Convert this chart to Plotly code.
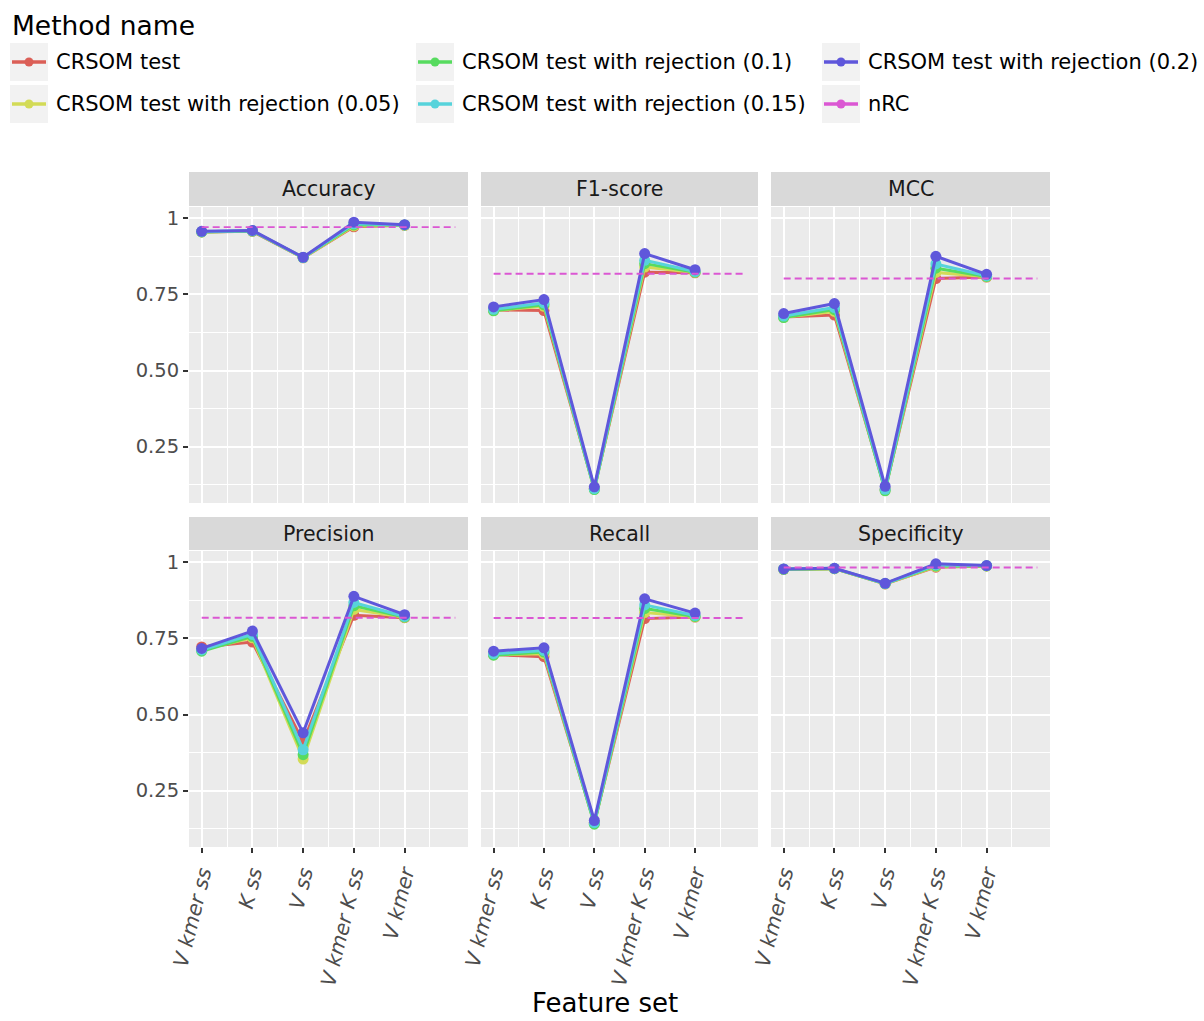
import plotly.graph_objects as go

# ---- data -------------------------------------------------------------
feature_sets = ["V kmer ss", "K ss", "V ss", "V kmer K ss", "V kmer"]
metrics = ["Accuracy", "F1-score", "MCC", "Precision", "Recall", "Specificity"]
methods = [
    "CRSOM test",
    "CRSOM test with rejection (0.05)",
    "CRSOM test with rejection (0.1)",
    "CRSOM test with rejection (0.15)",
    "CRSOM test with rejection (0.2)",
    "nRC",
]
colors = ["#DB5F57", "#D3DB57", "#57DB5F", "#57D3DB", "#5F57DB", "#DB57D3"]

# scores per feature set, one list per CRSOM variant
accuracy = {
    "CRSOM test": [0.955, 0.957, 0.870, 0.972, 0.977],
    "CRSOM test with rejection (0.05)": [0.955, 0.958, 0.870, 0.975, 0.977],
    "CRSOM test with rejection (0.1)": [0.955, 0.958, 0.871, 0.978, 0.978],
    "CRSOM test with rejection (0.15)": [0.956, 0.959, 0.871, 0.982, 0.978],
    "CRSOM test with rejection (0.2)": [0.957, 0.960, 0.872, 0.987, 0.979],
}
f1_score = {
    "CRSOM test": [0.699, 0.697, 0.113, 0.823, 0.821],
    "CRSOM test with rejection (0.05)": [0.697, 0.711, 0.111, 0.840, 0.822],
    "CRSOM test with rejection (0.1)": [0.696, 0.716, 0.109, 0.851, 0.823],
    "CRSOM test with rejection (0.15)": [0.701, 0.722, 0.112, 0.862, 0.825],
    "CRSOM test with rejection (0.2)": [0.709, 0.733, 0.118, 0.884, 0.831],
}
mcc = {
    "CRSOM test": [0.676, 0.682, 0.110, 0.802, 0.807],
    "CRSOM test with rejection (0.05)": [0.675, 0.694, 0.108, 0.822, 0.808],
    "CRSOM test with rejection (0.1)": [0.674, 0.700, 0.105, 0.836, 0.809],
    "CRSOM test with rejection (0.15)": [0.679, 0.707, 0.110, 0.850, 0.811],
    "CRSOM test with rejection (0.2)": [0.687, 0.720, 0.120, 0.875, 0.816],
}
precision = {
    "CRSOM test": [0.722, 0.738, 0.410, 0.826, 0.818],
    "CRSOM test with rejection (0.05)": [0.713, 0.752, 0.354, 0.845, 0.819],
    "CRSOM test with rejection (0.1)": [0.708, 0.757, 0.368, 0.857, 0.820],
    "CRSOM test with rejection (0.15)": [0.712, 0.763, 0.384, 0.868, 0.822],
    "CRSOM test with rejection (0.2)": [0.717, 0.774, 0.440, 0.888, 0.828],
}
recall = {
    "CRSOM test": [0.697, 0.690, 0.145, 0.815, 0.820],
    "CRSOM test with rejection (0.05)": [0.696, 0.700, 0.143, 0.835, 0.821],
    "CRSOM test with rejection (0.1)": [0.695, 0.705, 0.140, 0.848, 0.822],
    "CRSOM test with rejection (0.15)": [0.700, 0.710, 0.145, 0.860, 0.825],
    "CRSOM test with rejection (0.2)": [0.708, 0.719, 0.152, 0.880, 0.833],
}
specificity = {
    "CRSOM test": [0.977, 0.979, 0.929, 0.984, 0.988],
    "CRSOM test with rejection (0.05)": [0.977, 0.979, 0.929, 0.986, 0.988],
    "CRSOM test with rejection (0.1)": [0.977, 0.979, 0.930, 0.988, 0.988],
    "CRSOM test with rejection (0.15)": [0.978, 0.980, 0.930, 0.991, 0.989],
    "CRSOM test with rejection (0.2)": [0.978, 0.980, 0.931, 0.995, 0.989],
}
# nRC baseline score per metric
nrc_score = [0.971, 0.818, 0.802, 0.818, 0.817, 0.983]

y_ticks = [0.25, 0.50, 0.75, 1.0]
y_tick_text = ["0.25", "0.50", "0.75", "1"]

metric_tables = [accuracy, f1_score, mcc, precision, recall, specificity]

# ---- layout geometry (pixels) -----------------------------------------
W, H = 1204, 1021
col_px = [(189, 468), (481, 758), (771, 1050)]
row_px = [(207, 503), (551, 847)]
strip_px = [(172, 206), (517, 550)]


def fx(px):
    return px / W


def fy(py):
    return 1 - py / H


FONT = "DejaVu Sans"
x_pos = list(range(1, len(feature_sets) + 1))
x_range = [0.75, len(feature_sets) + 1.25]
y_range = [0.065, 1.037]

fig = go.Figure()
shapes = []
annotations = []

for i, (metric, table) in enumerate(zip(metrics, metric_tables)):
    r, c = divmod(i, 3)
    sfx = "" if i == 0 else str(i + 1)
    xa, ya = "x" + sfx, "y" + sfx

    for name, color in zip(methods[:-1], colors[:-1]):
        fig.add_trace(go.Scatter(
            x=x_pos, y=table[name], mode="lines+markers", name=name,
            line=dict(color=color, width=3),
            marker=dict(color=color, size=11),
            xaxis=xa, yaxis=ya, showlegend=False,
        ))
    # nRC baseline drawn as a dashed line across the feature sets
    fig.add_trace(go.Scatter(
        x=[x_pos[0], x_pos[-1] + 1], y=[nrc_score[i]] * 2, mode="lines",
        name=methods[-1], line=dict(color=colors[-1], width=1.9, dash="7px,4px"),
        xaxis=xa, yaxis=ya, showlegend=False,
    ))

    bottom = r == 1
    left = c == 0
    fig.layout["xaxis" + sfx] = dict(
        domain=[fx(col_px[c][0]), fx(col_px[c][1])], anchor=ya,
        range=x_range, tickmode="array", tickvals=x_pos, ticktext=feature_sets,
        showticklabels=bottom, ticks="outside" if bottom else "",
        ticklen=5, tickwidth=1.5, tickcolor="#333333", tickangle=-76,
        tickfont=dict(family=FONT, size=20.5, color="#4D4D4D", style="italic"),
        showgrid=True, gridcolor="white", gridwidth=1.8, zeroline=False,
        showline=False, automargin=False,
        minor=dict(tickvals=[p + 0.5 for p in x_pos], showgrid=True,
                   gridcolor="white", gridwidth=0.9, ticks=""),
    )
    fig.layout["yaxis" + sfx] = dict(
        domain=[fy(row_px[r][1]), fy(row_px[r][0])], anchor=xa,
        range=y_range, tickmode="array", tickvals=y_ticks, ticktext=y_tick_text,
        showticklabels=left, ticks="outside" if left else "",
        ticklen=5, tickwidth=1.5, tickcolor="#333333",
        tickfont=dict(family=FONT, size=19.5, color="#4D4D4D"),
        showgrid=True, gridcolor="white", gridwidth=1.8, zeroline=False,
        showline=False, automargin=False,
        minor=dict(tickvals=[v - 0.125 for v in y_ticks], showgrid=True,
                   gridcolor="white", gridwidth=0.9, ticks=""),
    )

    # facet strip
    shapes.append(dict(
        type="rect", xref="paper", yref="paper",
        x0=fx(col_px[c][0]), x1=fx(col_px[c][1]),
        y0=fy(strip_px[r][1]), y1=fy(strip_px[r][0]),
        fillcolor="#D9D9D9", line=dict(width=0), layer="below",
    ))
    annotations.append(dict(
        text=metric, xref="paper", yref="paper",
        x=fx((col_px[c][0] + col_px[c][1]) / 2),
        y=fy((strip_px[r][0] + strip_px[r][1]) / 2),
        xanchor="center", yanchor="middle", showarrow=False,
        font=dict(family=FONT, size=20.5, color="#1A1A1A"),
    ))

# axis title, kept just inside the bottom edge
annotations.append(dict(
    text="Feature set", xref="paper", yref="paper", x=fx(605), y=fy(1020),
    xanchor="center", yanchor="bottom", showarrow=False,
    font=dict(family=FONT, size=26, color="black"),
))

# legend: title plus three columns of keys, filled column by column
annotations.append(dict(
    text="Method name", xref="paper", yref="paper", x=fx(10), y=fy(25),
    xanchor="left", yanchor="middle", showarrow=False,
    font=dict(family=FONT, size=26.5, color="black"),
))
key_cols = [10, 416, 822]
key_rows = [62, 104]
key_w, key_h = 38, 38
for k, (name, color) in enumerate(zip(methods, colors)):
    kx = key_cols[k // 2]
    ky = key_rows[k % 2]
    shapes.append(dict(
        type="rect", xref="paper", yref="paper",
        x0=fx(kx), x1=fx(kx + key_w), y0=fy(ky + key_h / 2), y1=fy(ky - key_h / 2),
        fillcolor="#F2F2F2", line=dict(width=0),
    ))
    shapes.append(dict(
        type="line", xref="paper", yref="paper",
        x0=fx(kx + 2), x1=fx(kx + key_w - 2), y0=fy(ky), y1=fy(ky),
        line=dict(color=color, width=3.5),
    ))
    shapes.append(dict(
        type="circle", xref="paper", yref="paper",
        x0=fx(kx + key_w / 2 - 4.5), x1=fx(kx + key_w / 2 + 4.5),
        y0=fy(ky + 4.5), y1=fy(ky - 4.5),
        fillcolor=color, line=dict(width=0),
    ))
    annotations.append(dict(
        text=name, xref="paper", yref="paper", x=fx(kx + key_w + 6), y=fy(ky),
        xanchor="left", yanchor="middle", showarrow=False,
        font=dict(family=FONT, size=21, color="black"),
    ))

fig.update_layout(
    width=W, height=H,
    margin=dict(l=0, r=0, t=0, b=0, pad=0, autoexpand=False),
    paper_bgcolor="white", plot_bgcolor="#EBEBEB",
    shapes=shapes, annotations=annotations, showlegend=False,
    font=dict(family=FONT),
)

fig.write_html("out.html")
